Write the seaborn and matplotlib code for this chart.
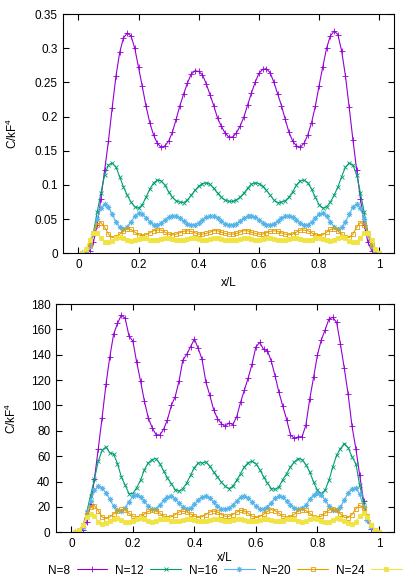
import numpy as np
import matplotlib
matplotlib.use("Agg")
import matplotlib.pyplot as plt
import seaborn as sns
from matplotlib.ticker import FuncFormatter, MultipleLocator

# Setup (gnuplot-like look)
sns.set_style("ticks", {
    "xtick.direction": "in", "ytick.direction": "in",
    "axes.edgecolor": "black", "xtick.color": "black", "ytick.color": "black",
    "text.color": "black", "axes.labelcolor": "black",
})
plt.rcParams["font.family"] = ["Liberation Sans", "DejaVu Sans"]
plt.rcParams["mathtext.default"] = "regular"
plt.rcParams["font.size"] = 8.5

# Data: sampling grid x/L = k/80, k = 1..80
x = np.arange(1, 81) / 80
labels = ["N=8", "N=12", "N=16", "N=20", "N=24"]

# upper panel
top_n8 = [0, 0.001, 0.004, 0.016, 0.042, 0.08, 0.122, 0.164, 0.213, 0.259,
          0.294, 0.315, 0.322, 0.318, 0.3, 0.272, 0.244, 0.215, 0.191, 0.173,
          0.161, 0.155, 0.157, 0.164, 0.177, 0.196, 0.216, 0.233, 0.249, 0.262,
          0.267, 0.266, 0.261, 0.248, 0.232, 0.216, 0.198, 0.186, 0.176, 0.17,
          0.17, 0.176, 0.186, 0.199, 0.217, 0.234, 0.25, 0.263, 0.269, 0.27,
          0.264, 0.25, 0.233, 0.216, 0.196, 0.177, 0.164, 0.157, 0.155, 0.161,
          0.173, 0.191, 0.215, 0.245, 0.273, 0.3, 0.318, 0.325, 0.32, 0.296,
          0.26, 0.214, 0.166, 0.122, 0.08, 0.042, 0.016, 0.004, 0.001, 0]
top_n12 = [0, 0.002, 0.01, 0.03, 0.06, 0.088, 0.115, 0.129, 0.132, 0.126,
           0.112, 0.097, 0.085, 0.075, 0.068, 0.066, 0.071, 0.082, 0.094, 0.103,
           0.107, 0.106, 0.1, 0.09, 0.082, 0.077, 0.075, 0.074, 0.078, 0.085,
           0.092, 0.098, 0.102, 0.103, 0.101, 0.095, 0.088, 0.082, 0.078, 0.076,
           0.076, 0.078, 0.082, 0.088, 0.095, 0.101, 0.103, 0.102, 0.098, 0.092,
           0.085, 0.078, 0.074, 0.075, 0.077, 0.082, 0.09, 0.1, 0.106, 0.107,
           0.103, 0.094, 0.082, 0.071, 0.066, 0.068, 0.075, 0.085, 0.097, 0.112,
           0.126, 0.132, 0.129, 0.115, 0.088, 0.06, 0.03, 0.01, 0.002, 0]
top_n16 = [0, 0.002, 0.01, 0.028, 0.05, 0.066, 0.072, 0.068, 0.057, 0.046,
           0.038, 0.036, 0.039, 0.046, 0.054, 0.059, 0.057, 0.052, 0.046, 0.042,
           0.041, 0.044, 0.049, 0.053, 0.055, 0.054, 0.051, 0.047, 0.043, 0.042,
           0.042, 0.045, 0.049, 0.053, 0.054, 0.054, 0.051, 0.047, 0.043, 0.042,
           0.042, 0.043, 0.047, 0.051, 0.054, 0.054, 0.053, 0.049, 0.045, 0.042,
           0.042, 0.043, 0.047, 0.051, 0.054, 0.055, 0.053, 0.049, 0.044, 0.041,
           0.042, 0.046, 0.052, 0.057, 0.059, 0.054, 0.046, 0.039, 0.036, 0.038,
           0.046, 0.057, 0.068, 0.072, 0.066, 0.05, 0.028, 0.01, 0.002, 0]
top_n20 = [0, 0.003, 0.012, 0.03, 0.042, 0.045, 0.038, 0.028, 0.023, 0.024,
           0.028, 0.033, 0.036, 0.035, 0.031, 0.027, 0.026, 0.027, 0.03, 0.033,
           0.034, 0.034, 0.031, 0.028, 0.027, 0.028, 0.03, 0.032, 0.033, 0.032,
           0.03, 0.028, 0.028, 0.029, 0.031, 0.033, 0.033, 0.031, 0.029, 0.028,
           0.028, 0.029, 0.031, 0.033, 0.033, 0.031, 0.029, 0.028, 0.028, 0.03,
           0.032, 0.033, 0.032, 0.03, 0.028, 0.027, 0.028, 0.031, 0.034, 0.034,
           0.033, 0.03, 0.027, 0.026, 0.027, 0.031, 0.035, 0.036, 0.033, 0.028,
           0.024, 0.023, 0.028, 0.038, 0.045, 0.042, 0.03, 0.012, 0.003, 0]
top_n24 = [0.001, 0.006, 0.02, 0.03, 0.03, 0.022, 0.017, 0.016, 0.018, 0.022,
           0.024, 0.023, 0.02, 0.018, 0.019, 0.021, 0.023, 0.022, 0.02, 0.019,
           0.019, 0.021, 0.022, 0.022, 0.021, 0.019, 0.019, 0.02, 0.021, 0.022,
           0.022, 0.021, 0.02, 0.02, 0.021, 0.022, 0.022, 0.021, 0.02, 0.02,
           0.02, 0.02, 0.021, 0.022, 0.022, 0.021, 0.02, 0.02, 0.021, 0.022,
           0.022, 0.021, 0.02, 0.019, 0.019, 0.021, 0.022, 0.022, 0.021, 0.019,
           0.019, 0.02, 0.022, 0.023, 0.021, 0.019, 0.018, 0.02, 0.023, 0.024,
           0.022, 0.018, 0.016, 0.017, 0.022, 0.03, 0.03, 0.02, 0.006, 0.001]

# lower panel
bot_n8 = [0, 0.5, 2, 8, 22, 42, 66, 90.5, 116.6, 138.4,
          156.3, 164.7, 171.3, 168.7, 154.7, 150.8, 134, 119.2, 103.4, 90.3,
          82.6, 77.1, 76.6, 81.3, 88.9, 100, 106.8, 119.2, 135.8, 140.3,
          146.3, 152.4, 145, 136.3, 118.4, 108.2, 96.8, 89.7, 85.8, 83.5,
          86.3, 85, 91, 102.4, 112.1, 121.8, 132.6, 146.3, 149.7, 144.2,
          143.2, 135, 123.2, 110.3, 99.5, 88.9, 76.8, 74, 75.3, 75.3,
          84.5, 105, 122.1, 139.7, 151.6, 159.5, 168.2, 169.5, 165.5, 148.2,
          129.2, 108.7, 83.7, 66, 45, 25, 10, 3, 0.5, 0]
bot_n12 = [0, 1, 5, 16, 29, 42, 56, 64.7, 67.4, 62.6,
           61.6, 54.2, 43.7, 37.1, 30.5, 30.5, 35.3, 41, 49.5, 54.7,
           57.4, 58.2, 54.2, 48.4, 42.9, 38.4, 33.7, 32.4, 34.5, 38.9,
           45, 51.1, 54.7, 54.7, 55.5, 52.1, 47.6, 43.7, 39.7, 36.3,
           34.5, 36.3, 41, 46.3, 51.6, 55, 56, 54.2, 49.5, 43.7,
           38.9, 34.5, 33.9, 35.8, 41.6, 46.3, 51.6, 55.5, 58.2, 57.4,
           53.4, 47.6, 39.7, 33.2, 30.5, 33.2, 41, 51.6, 60.8, 66,
           70, 66.8, 59.5, 54.2, 37.1, 24, 12, 5.5, 1.6, 0]
bot_n16 = [0, 1, 4, 15, 25, 33, 36.3, 35, 31, 26,
           20.5, 17.5, 17, 19.5, 24, 28.5, 29.7, 28, 24.5, 20.5,
           18, 18.5, 21.5, 25.5, 28, 28.4, 26.5, 23, 19.8, 18.7,
           19.2, 22, 25.5, 27.8, 28.4, 27, 24, 20.5, 18.5, 18,
           19, 21.5, 25, 27.6, 28.4, 27, 24, 20.5, 18.4, 18.2,
           20, 23.5, 27, 28.4, 27.6, 24.8, 21.5, 19, 18.5, 18.8,
           21.5, 26, 29.5, 31, 29.8, 25.5, 20.5, 17.8, 17.5, 20,
           25.5, 31, 34.5, 35.3, 30, 20, 10, 4, 1, 0]
bot_n20 = [0, 1.5, 6, 14, 20, 21, 17, 12, 10.8, 12,
           14.5, 17, 18, 17.5, 15, 12.5, 11.6, 12.5, 14.5, 16.5,
           17.4, 17, 15, 12.8, 11.6, 12.2, 14, 16, 16.6, 16,
           14.5, 12.8, 11.6, 12.2, 14, 16, 16.8, 16, 14, 12.6,
           12.6, 14, 16, 17.4, 16.8, 15, 12.6, 11.6, 12.4, 14.2,
           16.5, 17.9, 17, 15, 12.6, 11.6, 12.2, 14.2, 16.8, 17.9,
           17.2, 15, 12.4, 11.6, 12.6, 15, 17.5, 18.7, 17.5, 14.5,
           11.8, 11.6, 14, 18.5, 21.3, 19.5, 13, 6, 1.5, 0]
bot_n24 = [0, 1.5, 6, 12, 14.5, 12.5, 8.5, 6.5, 7, 9,
           10.8, 11, 9.8, 8.3, 8, 9, 10.5, 11, 10.2, 8.8,
           8.4, 9, 10.2, 10.6, 10.3, 9.2, 8.6, 8.6, 9.5, 10.4,
           10.6, 10, 9.1, 8.6, 8.9, 9.8, 10.5, 10.5, 9.7, 9,
           9, 9.7, 10.5, 10.5, 9.8, 8.9, 8.6, 9.1, 10, 10.6,
           10.4, 9.5, 8.6, 8.6, 9.2, 10.3, 10.6, 10.2, 9, 8.4,
           8.8, 10.2, 11, 10.5, 9, 8, 8.3, 9.8, 11, 10.8,
           9, 7, 6.5, 8.5, 12.5, 15, 12, 6, 1.5, 0]

# gnuplot default colours / point types
colors = ["#9400d3", "#009e73", "#56b4e9", "#e69f00", "#f0e442"]
markers = ["+", "x", (8, 2, 0), "s", "s"]
facecols = ["none", "none", "none", "none", "#f0e442"]
msizes = [4, 3.2, 3.8, 3, 3]

fmt = FuncFormatter(lambda v, p: f"{v:g}")


def draw_panel(ax, series, ytop, ystep):
    for lab, vals, col, mk, fc, ms in zip(labels, series, colors, markers, facecols, msizes):
        sns.lineplot(x=x, y=vals, ax=ax, color=col, marker=mk, markersize=ms,
                     markeredgecolor=col, markerfacecolor=fc, markeredgewidth=0.6,
                     linewidth=0.8, errorbar=None, label=lab, legend=False)
    ax.set_xlim(-0.05, 1.05)
    ax.set_ylim(0, ytop)
    ax.xaxis.set_major_locator(MultipleLocator(0.2))
    ax.yaxis.set_major_locator(MultipleLocator(ystep))
    ax.xaxis.set_major_formatter(fmt)
    ax.yaxis.set_major_formatter(fmt)
    ax.tick_params(top=True, right=True, direction="in", length=4.5,
                   width=0.8, pad=4, labelsize=8.5)
    for sp in ax.spines.values():
        sp.set_linewidth(0.8)
    ax.set_xlabel("x/L", fontsize=8.5)
    ax.set_ylabel("C/kF$^4$", fontsize=8.5)


fig = plt.figure(figsize=(4.15, 5.81), dpi=100)
ax1 = fig.add_axes([0.1525, 0.564, 0.7976, 0.4119])
ax2 = fig.add_axes([0.1349, 0.0838, 0.8152, 0.3929])

draw_panel(ax1, [top_n8, top_n12, top_n16, top_n20, top_n24], 0.35, 0.05)
draw_panel(ax2, [bot_n8, bot_n12, bot_n16, bot_n20, bot_n24], 180, 20)

ax1.xaxis.set_label_coords(0.5, -0.099)
ax1.yaxis.set_label_coords(-0.131, 0.5)
ax2.xaxis.set_label_coords(0.5, -0.086)
ax2.yaxis.set_label_coords(-0.109, 0.5)

handles = ax2.get_lines()[:5]
fig.legend(handles, labels, loc="center", bbox_to_anchor=(0.542, 0.018),
           ncol=5, frameon=False, markerfirst=False, handlelength=2.6,
           handletextpad=0.55, columnspacing=0.65, fontsize=8.5, borderaxespad=0)

fig.savefig("out.png", dpi=100)
